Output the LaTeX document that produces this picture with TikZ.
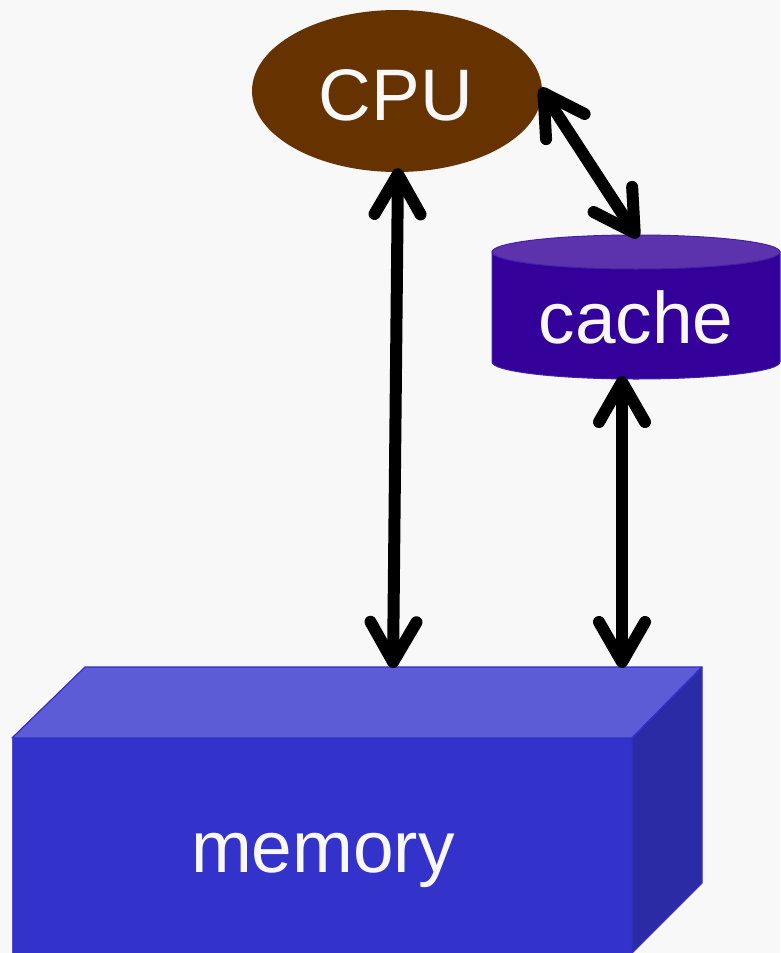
\documentclass[tikz,border=0pt]{standalone}
\usepackage{fontspec}
\newfontfamily\arialf{Liberation Sans}
\usetikzlibrary{arrows.meta,shapes.geometric}
\definecolor{bg}{HTML}{F8F8F8}
\definecolor{cpubrown}{HTML}{663300}
\definecolor{cachebody}{HTML}{330099}
\definecolor{cachetop}{HTML}{5C33AD}
\definecolor{cacheline}{HTML}{4422A8}
\definecolor{memfront}{HTML}{3333CC}
\definecolor{memtop}{HTML}{5C5CD6}
\definecolor{memside}{HTML}{2B2BA6}
\definecolor{memline}{HTML}{3030C8}
\tikzset{
  lbl/.style={font=\arialf\fontsize{73}{80}\selectfont, text=bg, inner sep=0pt, anchor=base},
  link/.style={line width=12pt, draw=black,
    {Straight Barb[length=40pt,width=46pt,round]}-{Straight Barb[length=40pt,width=46pt,round]}}
}
\begin{document}
\begin{tikzpicture}[x=1pt,y=-1pt]
\useasboundingbox (0,0) rectangle (780,953);
\fill[bg] (0,0) rectangle (780,953);
% CPU
\node[ellipse, fill=cpubrown, minimum width=290pt, minimum height=162pt, inner sep=0pt] (cpu) at (397,91) {};
\node[lbl] (cputext) at (396,120) {CPU};
% cache cylinder
\fill[cachebody, draw=cacheline, line width=1pt]
  (492,252) -- (492,362) arc[start angle=180,end angle=360,x radius=144,y radius=-17] -- (780,252) -- cycle;
\fill[cachetop, draw=cacheline, line width=1pt] (636,252) ellipse[x radius=144, y radius=17];
\node[lbl] (cache) at (636,343) {cache};
\coordinate (cachetopc) at (638,238);
\coordinate (cachebot) at (622,376);
% memory box
\fill[memfront] (12,738) rectangle (632,960);
\fill[memtop, draw=memline, line width=1.2pt, line join=round] (12,738) -- (85,667) -- (702,667) -- (632,738) -- cycle;
\fill[memside, draw=memline, line width=1.2pt, line join=round] (632,738) -- (702,667) -- (702,883) -- (632,953) -- cycle;
\draw[memtop!70!memfront, line width=1pt] (12,738) -- (12,960);
\node[lbl] (memory) at (323,872) {memory};
\coordinate (memA) at (393,668);
\coordinate (memB) at (622,668);
% connectors
\draw[link] (cpu.south) ++(1,-4) coordinate (cpuS) -- (memA);
\draw[link] (cpu.east) ++(-2,-3) coordinate (cpuE) -- (cachetopc);
\draw[link] (cachebot) -- (memB);
\end{tikzpicture}
\end{document}
